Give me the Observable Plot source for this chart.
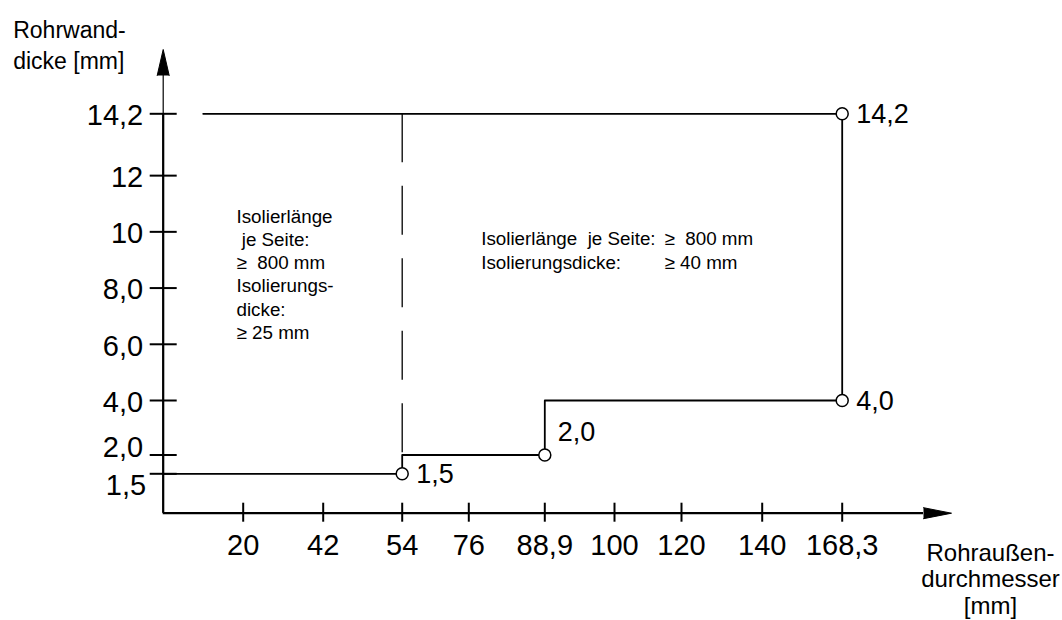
<!DOCTYPE html>
<html><head><meta charset="utf-8">
<script src="https://cdn.jsdelivr.net/npm/d3@7"></script>
<script src="https://cdn.jsdelivr.net/npm/@observablehq/plot@0.6"></script>
<style>
body{margin:0;background:#fff}
svg{font-family:"Liberation Sans",Arial,sans-serif}
svg text{white-space:pre}
</style>
</head><body><div id="chart"></div>
<script>
// Tick values and labels (German decimal comma)
const xTicks = [20, 42, 54, 76, 88.9, 100, 120, 140, 168.3];
const xTickLabels = ["20", "42", "54", "76", "88,9", "100", "120", "140", "168,3"];
const yTicks = [1.5, 2, 4, 6, 8, 10, 12, 14.2];
const yTickLabels = ["1,5", "2,0", "4,0", "6,0", "8,0", "10", "12", "14,2"];

// Boundary line: Rohraußendurchmesser [mm] -> Rohrwanddicke [mm]
const boundaryX = [0, 54, 54, 88.9, 88.9, 168.3, 168.3, 10];
const boundaryY = [1.5, 1.5, 2.0, 2.0, 4.0, 4.0, 14.2, 14.2];

// Marked corner points
const pointX = [54, 88.9, 168.3, 168.3];
const pointY = [1.5, 2.0, 4.0, 14.2];
const pointLabels = ["1,5", "2,0", "4,0", "14,2"];

// Dashed divider between the two zones
const dividerX = [54];
const dividerFrom = 14.2, dividerTo = 2.0;

// Texts
const yTitle = "Rohrwand-\ndicke [mm]";
const xTitle = "Rohraußen-\ndurchmesser\n[mm]";
const leftNote = "Isolierlänge\n je Seite:\n≥  800 mm\nIsolierungs-\ndicke:\n≥ 25 mm";
const rightNoteLabels = "Isolierlänge  je Seite:\nIsolierungsdicke:";
const rightNoteValues = "≥  800 mm\n≥ 40 mm";

const boundary = boundaryX.map((x, i) => ({x, y: boundaryY[i]}));
const points = pointX.map((x, i) => ({x, y: pointY[i], label: pointLabels[i]}));

const W = 1062, H = 620;
const mL = 162.7, mR = 139, mT = 75, mB = 107.3;

const chart = Plot.plot({
  width: W, height: H,
  marginLeft: mL, marginRight: mR, marginTop: mT, marginBottom: mB,
  style: {fontFamily: '"Liberation Sans", Arial, sans-serif', background: "#fff", color: "#000"},
  x: {type: "linear", domain: [0, ...xTicks],
      range: [162.7, 242.7, 322.7, 401.7, 468.3, 544.3, 614, 681, 761.7, 841.7]},
  y: {type: "linear", domain: [0, 1.5, 2, 4, 14.2],
      range: [512.7, 473.3, 454.5, 400, 113.3]},
  marks: [
    // axis lines
    Plot.ruleY([0], {stroke: "#000", strokeWidth: 2.2}),
    Plot.ruleX([0], {stroke: "#000", strokeWidth: 1.2}),
    Plot.ruleX([0], {y1: 0, y2: 14.2, stroke: "#000", strokeWidth: 2.2}),
    // ticks crossing the axes
    Plot.axisX(xTicks, {tickSize: 19, dy: -10, tickFormat: () => "", label: null, strokeWidth: 2}),
    Plot.axisY(yTicks, {tickSize: 27, dx: 14, tickFormat: () => "", label: null, strokeWidth: 2}),
    // arrow heads
    Plot.vector([0], {frameAnchor: "top-left", length: 26, rotate: 0, anchor: "start",
      shape: "spike", r: 6, fill: "#000", stroke: "#000", strokeWidth: 1}),
    Plot.vector([0], {frameAnchor: "bottom-right", length: 28, rotate: 90, anchor: "start",
      shape: "spike", r: 5.5, fill: "#000", stroke: "#000", strokeWidth: 1}),
    // tick labels
    Plot.text(xTicks, {x: d => d, y: 0, text: (d, i) => xTickLabels[i], dy: 33, fontSize: 29}),
    Plot.text(yTicks, {x: 0, y: d => d, text: (d, i) => yTickLabels[i], filter: d => d > 2,
      textAnchor: "end", dx: -20, dy: 2, fontSize: 29}),
    Plot.text(yTicks, {x: 0, y: d => d, text: (d, i) => yTickLabels[i], filter: d => d === 2,
      textAnchor: "end", dx: -20, dy: -7, fontSize: 29}),
    Plot.text(yTicks, {x: 0, y: d => d, text: (d, i) => yTickLabels[i], filter: d => d === 1.5,
      textAnchor: "end", dx: -17, dy: 12, fontSize: 29}),
    // boundary line
    Plot.line(boundary, {x: "x", y: "y", stroke: "#000", strokeWidth: 1.8}),
    // dashed divider
    Plot.ruleX(dividerX, {y1: dividerFrom, y2: dividerTo, stroke: "#000", strokeWidth: 1.3,
      strokeDasharray: "49,23.5"}),
    // marked points
    Plot.dot(points, {x: "x", y: "y", r: 6, fill: "#fff", stroke: "#000", strokeWidth: 1.5}),
    Plot.text(points, {x: "x", y: "y", text: "label", filter: d => d.label !== "2,0",
      textAnchor: "start", dx: 14, dy: 1, fontSize: 27}),
    Plot.text(points, {x: "x", y: "y", text: "label", filter: d => d.label === "2,0",
      textAnchor: "start", dx: 13, dy: -23, fontSize: 27}),
    // axis titles
    Plot.text([yTitle], {frameAnchor: "top-left", text: d => d, textAnchor: "start",
      lineAnchor: "top", lineHeight: 1.35, dx: -150, dy: -59.6, fontSize: 23}),
    Plot.text([xTitle], {frameAnchor: "bottom-right", text: d => d, textAnchor: "middle",
      lineAnchor: "top", lineHeight: 1.1, dx: 67, dy: 29, fontSize: 24}),
    // zone notes
    Plot.text([leftNote], {frameAnchor: "top-left", text: d => d, textAnchor: "start",
      lineAnchor: "top", lineHeight: 1.24, dx: 73.3, dy: 130.5, fontSize: 18.8}),
    Plot.text([rightNoteLabels], {frameAnchor: "top-left", text: d => d, textAnchor: "start",
      lineAnchor: "top", lineHeight: 1.23, dx: 318, dy: 153.5, fontSize: 18.8}),
    Plot.text([rightNoteValues], {frameAnchor: "top-left", text: d => d, textAnchor: "start",
      lineAnchor: "top", lineHeight: 1.23, dx: 501.3, dy: 153.5, fontSize: 18.8})
  ]
});
document.getElementById("chart").appendChild(chart);
</script>
</body></html>
